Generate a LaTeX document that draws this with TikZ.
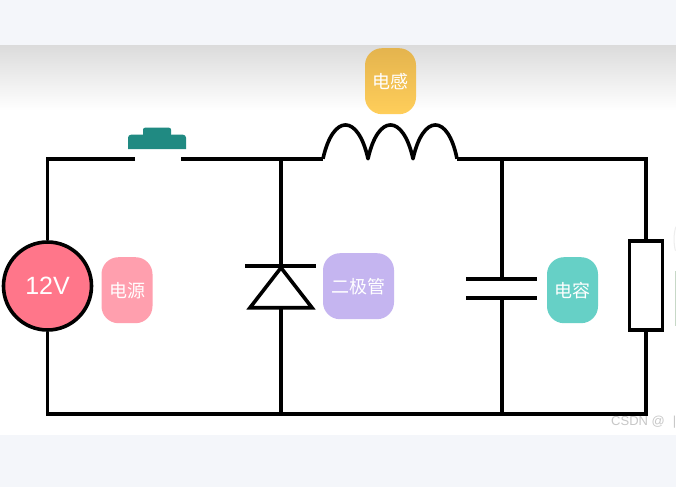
\documentclass[tikz,border=0pt]{standalone}
\usepackage{fontspec}
\newfontfamily\cjk{Noto Sans CJK SC}
\setmainfont{Liberation Sans}
\newcommand{\tagtext}[1]{\raisebox{-2pt}{#1}}
\tikzset{
  wire/.style={draw=black,line width=3.6pt,line join=miter,line cap=butt},
  tag/.style={rounded corners=17pt,minimum height=66pt,text=white,inner sep=0pt,font=\cjk\fontsize{18}{20}\selectfont},
}
\definecolor{band}{HTML}{F4F6FA}
\begin{document}
\begin{tikzpicture}[x=1pt,y=-1pt]
\useasboundingbox (0,-0.7) rectangle (676,486.3);
\fill[white] (0,-0.7) rectangle (676,486.3);
\fill[band] (0,-0.7) rectangle (676,44.5);
\fill[band] (0,434) rectangle (676,486.3);
\shade[top color=black!14,bottom color=white] (0,44.5) rectangle (676,110);
% junctions
\coordinate (tl) at (47.5,158);
\coordinate (tr) at (646,158);
\coordinate (bl) at (47.5,413.5);
\coordinate (br) at (646,413.5);
\coordinate (swL) at (135,158);
\coordinate (swR) at (181,158);
\coordinate (coilL) at (323,158);
\coordinate (coilA) at (368,158);
\coordinate (coilB) at (413,158);
\coordinate (coilR) at (457,158);
\coordinate (dT) at (281,158);
\coordinate (dB) at (281,413.5);
\coordinate (cT) at (502,158);
\coordinate (cB) at (502,413.5);
% source
\node[circle,draw=black,line width=3.6pt,fill={rgb,255:red,255;green,118;blue,138},minimum size=88pt,inner sep=0pt,text=white,font=\fontsize{25}{28}\selectfont] (src) at (47.5,285.3) {\raisebox{1pt}{12V}};
% wires
\draw[wire] (swL) -- (tl) -- (src.north);
\draw[wire] (src.south) -- (bl) -- (br) -- (tr) -- (coilR);
\draw[wire] (swR) -- (coilL);
\draw[wire,line join=round] (coilL) .. controls (333,113) and (358,113) .. (coilA)
  .. controls (378,113) and (403,113) .. (coilB)
  .. controls (423,113) and (448,113) .. (coilR);
% diode
\coordinate (dApex) at (281,267);
\coordinate (dBase) at (281,307);
\coordinate (dBarL) at (245,265);
\coordinate (dBarR) at (316,265);
\coordinate (dTriL) at (250,307);
\coordinate (dTriR) at (312,307);
\draw[wire] (dT) -- (dBarL -| dT);
\draw[wire] (dBarL) -- (dBarR);
\draw[wire] (dApex) -- (dTriR) -- (dTriL) -- cycle;
\draw[wire] (dBase) -- (dB);
% capacitor
\coordinate (p1L) at (466,278);
\coordinate (p1R) at (537,278);
\coordinate (p2L) at (466,297);
\coordinate (p2R) at (537,297);
\draw[wire] (cT) -- (p1L -| cT);
\draw[wire] (p1L) -- (p1R);
\draw[wire] (p2L) -- (p2R);
\draw[wire] (p2L -| cB) -- (cB);
% resistor
\node[draw=black,line width=3.6pt,fill=white,minimum width=33pt,minimum height=89pt,inner sep=0pt] (res) at (646,285) {};
% switch
\fill[fill={rgb,255:red,32;green,138;blue,130},rounded corners=2pt] (143,136) -- (143,127) -- (171,127) -- (171,136) -- cycle;
\fill[fill={rgb,255:red,32;green,138;blue,130}] (128,148.5) [rounded corners=3pt] -- (128,134) -- (186,134) [sharp corners] -- (186,148.5) -- cycle;
% tags
\node[tag,minimum width=51pt,top color={rgb,255:red,228;green,180;blue,78},bottom color={rgb,255:red,255;green,206;blue,90}] (lt) at (390.5,80.5) {\tagtext{电感}};
\node[tag,minimum width=51pt,fill={rgb,255:red,255;green,159;blue,174}] (st) at (127,289.5) {\tagtext{电源}};
\node[tag,minimum width=71pt,fill={rgb,255:red,197;green,181;blue,240}] (dt) at (358.5,285.5) {\tagtext{二极管}};
\node[tag,minimum width=51pt,fill={rgb,255:red,102;green,208;blue,198}] (ct) at (572.5,289.5) {\tagtext{电容}};
% clipped remains at the right edge
\fill[green!30!black!22] (675.2,270) rectangle (676,325);
\draw[black!7,line width=1pt] (676,226) .. controls (673.5,232) and (673.5,244) .. (675.5,250);
\node[anchor=west,inner sep=0pt,text=black!22,font=\fontsize{13}{15}\selectfont] (wm) at (611,421.5) {CSDN @\hspace{8pt}|};
\end{tikzpicture}
\end{document}
